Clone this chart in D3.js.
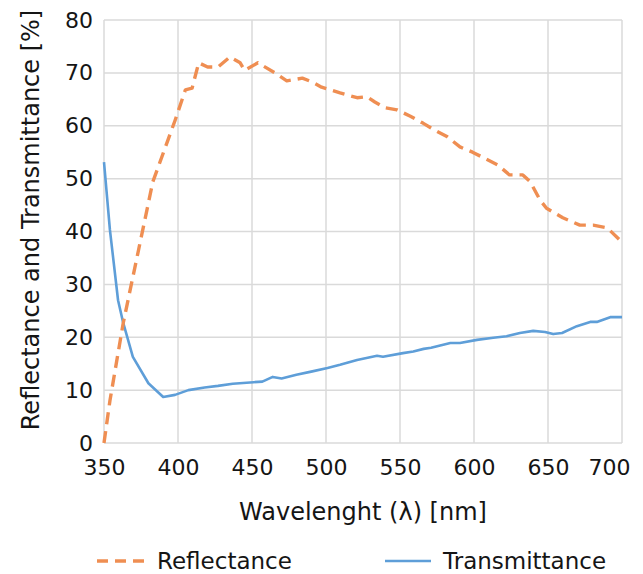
<!DOCTYPE html>
<html>
<head>
<meta charset="utf-8">
<script src="https://cdn.jsdelivr.net/npm/d3@7"></script>
<style>
  body { margin: 0; background: #fff; }
  text { font-family: "DejaVu Sans", sans-serif; fill: #151515; }
</style>
</head>
<body>
<div id="chart"></div>
<script>
// wavelength (nm) and reflectance (%)
const reflWl = [350, 354, 363, 383, 398, 405, 409.5, 414, 420, 427, 435, 442, 445, 454, 465.5, 473.5, 484, 490.5, 497, 509.5, 521, 527.5, 533, 540, 548, 557, 565.5, 572, 582, 590.5, 599, 616, 624, 633, 638, 644.5, 649, 660, 671.5, 680.5, 690, 700];
const reflVal = [0, 8, 22.7, 49.4, 61, 66.8, 67.1, 71.9, 71.1, 71.1, 73, 71.9, 70.5, 71.9, 70, 68.5, 69, 68.3, 67.3, 66.2, 65.3, 65.5, 64.5, 63.4, 63, 61.8, 60.5, 59.4, 57.9, 56, 55, 52.6, 50.7, 50.7, 49.4, 46, 44.4, 42.6, 41.2, 41.2, 40.7, 38];

// wavelength (nm) and transmittance (%)
const transWl = [350, 354, 359.5, 363, 369.5, 380, 390, 398, 407, 418, 427, 437, 451, 457, 464, 470, 480, 490, 501, 509.5, 521, 534.5, 538.5, 552, 559, 566, 571, 584, 590.5, 602, 613, 622, 631, 640, 648, 653.5, 659.5, 669.5, 678.5, 683, 692, 700];
const transVal = [53.1, 40.3, 27, 22.7, 16.3, 11.3, 8.7, 9.1, 10, 10.5, 10.8, 11.2, 11.5, 11.6, 12.5, 12.2, 12.9, 13.5, 14.2, 14.8, 15.7, 16.5, 16.3, 17, 17.3, 17.8, 18, 18.9, 18.9, 19.5, 19.9, 20.2, 20.8, 21.2, 21, 20.6, 20.8, 22.1, 22.9, 22.9, 23.8, 23.8];

const xTicks = [350, 400, 450, 500, 550, 600, 650, 700];
const yTicks = [0, 10, 20, 30, 40, 50, 60, 70, 80];

const W = 643, H = 574;
const plotL = 104, plotR = 622, plotT = 20, plotB = 443;

const orange = "#ef8e52";
const blue = "#5e9ed8";

const svg = d3.select("#chart").append("svg")
  .attr("width", W)
  .attr("height", H);

const x = d3.scaleLinear().domain([350, 700]).range([plotL, plotR]);
const y = d3.scaleLinear().domain([0, 80]).range([plotB, plotT]);

// grid
svg.append("g")
  .selectAll("line")
  .data(yTicks)
  .join("line")
  .attr("x1", plotL).attr("x2", plotR)
  .attr("y1", d => y(d)).attr("y2", d => y(d))
  .attr("stroke", "#dadada")
  .attr("stroke-width", 1.5);

svg.append("g")
  .selectAll("line")
  .data(xTicks)
  .join("line")
  .attr("x1", d => x(d)).attr("x2", d => x(d))
  .attr("y1", plotT).attr("y2", plotB)
  .attr("stroke", "#dadada")
  .attr("stroke-width", 1.5);

// axes (labels only)
const yAxis = svg.append("g")
  .attr("transform", `translate(${plotL},0)`)
  .call(d3.axisLeft(y).tickValues(yTicks).tickSize(0).tickPadding(11));
yAxis.select(".domain").remove();
yAxis.selectAll("text").style("font-size", "22px").style("font-family", "DejaVu Sans").style("fill", "#151515");

const xAxis = svg.append("g")
  .attr("transform", `translate(0,${plotB})`)
  .call(d3.axisBottom(x).tickValues(xTicks).tickSize(0).tickPadding(16));
xAxis.select(".domain").remove();
xAxis.selectAll("text").style("font-size", "22px").style("font-family", "DejaVu Sans").style("fill", "#151515");
// last label is pulled inside the frame in the original
xAxis.selectAll("text").filter(d => d === 700).attr("text-anchor", "end").attr("dx", 8);

// lines
const reflData = reflWl.map((w, i) => [w, reflVal[i]]);
const transData = transWl.map((w, i) => [w, transVal[i]]);

const line = d3.line().x(d => x(d[0])).y(d => y(d[1]));

svg.append("path")
  .datum(transData)
  .attr("d", line)
  .attr("fill", "none")
  .attr("stroke", blue)
  .attr("stroke-width", 2.6)
  .attr("stroke-linejoin", "round");

svg.append("path")
  .datum(reflData)
  .attr("d", line)
  .attr("fill", "none")
  .attr("stroke", orange)
  .attr("stroke-width", 3.4)
  .attr("stroke-dasharray", "12,7")
  .attr("stroke-linejoin", "round");

// titles
svg.append("text")
  .attr("x", (plotL + plotR) / 2)
  .attr("y", 520)
  .attr("text-anchor", "middle")
  .style("font-size", "24px")
  .text("Wavelenght (λ) [nm]");

svg.append("text")
  .attr("transform", "translate(39,220) rotate(-90)")
  .attr("text-anchor", "middle")
  .style("font-size", "24px")
  .text("Reflectance and Transmittance [%]");

// legend
const legend = svg.append("g");
legend.append("line")
  .attr("x1", 97).attr("x2", 145)
  .attr("y1", 561).attr("y2", 561)
  .attr("stroke", orange)
  .attr("stroke-width", 3.4)
  .attr("stroke-dasharray", "11,7");
legend.append("text")
  .attr("x", 157).attr("y", 569)
  .style("font-size", "23px")
  .text("Reflectance");
legend.append("line")
  .attr("x1", 385).attr("x2", 431)
  .attr("y1", 561).attr("y2", 561)
  .attr("stroke", blue)
  .attr("stroke-width", 2.6);
legend.append("text")
  .attr("x", 443).attr("y", 569)
  .style("font-size", "23px")
  .text("Transmittance");
</script>
</body>
</html>
